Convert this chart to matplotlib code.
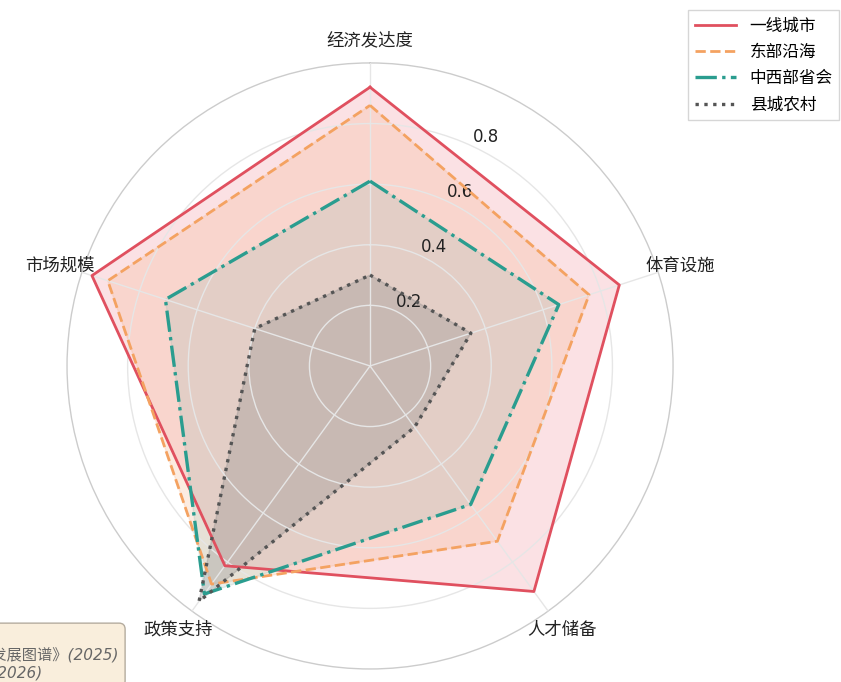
import numpy as np
import matplotlib
matplotlib.use("Agg")
import matplotlib.pyplot as plt

plt.rcParams['font.family'] = ['DejaVu Sans', 'Noto Sans CJK SC']

categories = ['经济发达度', '体育设施', '人才储备', '政策支持', '市场规模']
series_names = ['一线城市', '东部沿海', '中西部省会', '县城农村']
tier1 = [0.92, 0.865, 0.92, 0.815, 0.965]
east = [0.86, 0.76, 0.715, 0.89, 0.91]
central = [0.61, 0.655, 0.565, 0.93, 0.71]
county = [0.30, 0.35, 0.25, 0.96, 0.40]
rticks = [0.2, 0.4, 0.6, 0.8]
note_text = '数据来源：\n《中国体育产业区域发展图谱》(2025)\n注：统计口径更新至(2026)'

colors = ['#e0505f', '#f4a261', '#2a9d8f', '#555555']
fills = ['#f28b96', '#f6b48a', '#8fb5ad', '#8a8a8a']
styles = ['-', '--', '-.', ':']
widths = [2.0, 2.0, 2.4, 2.4]
alphas = [0.25, 0.25, 0.2, 0.3]

fig = plt.figure(figsize=(8.41, 6.82), dpi=100)
ax = fig.add_axes([0.0797, 0.0191, 0.7206, 0.8886], polar=True)
ax.set_theta_offset(np.pi / 2)
ax.set_theta_direction(-1)

angles = np.linspace(0, 2 * np.pi, len(categories), endpoint=False)
ang_closed = np.concatenate([angles, angles[:1]])

for name, vals, c, fc, ls, lw, a in zip(series_names, [tier1, east, central, county],
                                        colors, fills, styles, widths, alphas):
    v = np.array(vals + vals[:1])
    ax.plot(ang_closed, v, color=c, linestyle=ls, linewidth=lw, label=name, zorder=3)
    ax.fill(ang_closed, v, color=fc, alpha=a, zorder=2)

ax.set_ylim(0, 1.0)
ax.set_yticks(rticks)
ax.set_yticklabels([f'{t:.1f}' for t in rticks], fontsize=12, color='#222222')
ax.set_rlabel_position(25)
ax.set_xticks(angles)
ax.set_xticklabels(categories, fontsize=12.5, color='#222222')
ax.tick_params(axis='x', pad=6)
ax.grid(True, color='#e6e6e6', linewidth=1.0)
ax.set_axisbelow(False)
for gl in ax.xaxis.get_gridlines() + ax.yaxis.get_gridlines():
    gl.set_zorder(2.5)
ax.spines['polar'].set_color('#cccccc')
ax.spines['polar'].set_linewidth(1.0)

fig.legend(loc='upper right', bbox_to_anchor=(1.008, 0.998), fontsize=12,
           frameon=True, edgecolor='#cccccc', fancybox=False, handlelength=2.5)

fig.text(0.1415, 0.0396, note_text, ha='right', va='center', multialignment='left',
         fontsize=11, style='italic', color='#666666',
         bbox=dict(boxstyle='round,pad=0.4', facecolor='#f8ecd6', edgecolor='#a89f91', alpha=0.85))

fig.savefig('out.png', dpi=100)
